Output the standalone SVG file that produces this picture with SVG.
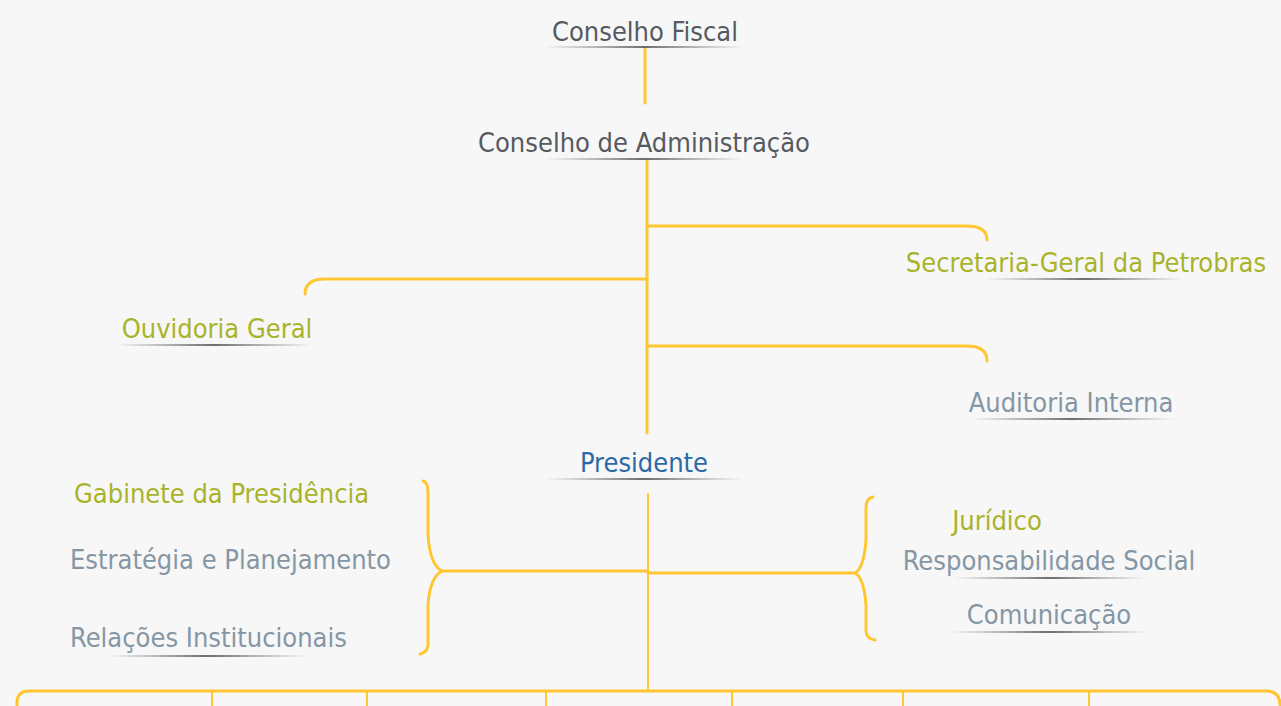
<svg xmlns="http://www.w3.org/2000/svg" width="1281" height="706" viewBox="0 0 1281 706">
<defs>
<linearGradient id="ul" x1="0" y1="0" x2="1" y2="0">
<stop offset="0" stop-color="#666" stop-opacity="0"/>
<stop offset="0.5" stop-color="#555" stop-opacity="0.85"/>
<stop offset="1" stop-color="#666" stop-opacity="0"/>
</linearGradient>
<style>
text{font-family:"DejaVu Sans Condensed","DejaVu Sans",sans-serif;font-stretch:condensed;font-size:27px;}
.dark{fill:#555a60;}
.green{fill:#a9b32a;}
.gray{fill:#8596a4;}
.blue{fill:#2a69a6;}
.ln{fill:none;stroke:#fec732;stroke-width:3;stroke-linecap:round;}
.thin{fill:none;stroke:#fec732;stroke-width:2;}
.ul{fill:url(#ul);}
</style>
</defs>
<rect width="1281" height="706" fill="#f7f7f7"/>
<g id="connectors">
<path class="ln" d="M645,49 V103"/>
<path class="ln" d="M647,161 V433"/>
<path class="ln" d="M647,226 H967 Q987,226 987,240"/>
<path class="ln" d="M647,346 H967 Q987,346 987,361"/>
<path class="ln" d="M647,279 H325 Q305,279 305,294"/>
<path class="thin" d="M648,493 V690"/>
<path class="ln" d="M442,571 H648"/>
<path class="ln" d="M648,573 H855"/>
<path class="ln" d="M423,481 Q428,482 428,492 L428,535 Q430,565 442,571 Q430,577 428,605 L428,645 Q427,653 420,654"/>
<path class="ln" d="M873,497 Q866,498 866,508 L866,540 Q864,568 855,573 Q864,578 866,605 L866,630 Q866,639 875,640"/>
<path class="ln" d="M17,706 V703 Q17,691 29,691 H1266 Q1280,691 1280,705"/>
<path class="thin" d="M212,691 V706 M367,691 V706 M546,691 V706 M732,691 V706 M903,691 V706 M1089,691 V706"/>
</g>
<g id="conselho-fiscal">
<text class="dark" x="645" y="41" text-anchor="middle">Conselho Fiscal</text>
<rect class="ul" x="545" y="46" width="200" height="2"/>
</g>
<g id="conselho-administracao">
<text class="dark" x="644" y="152" text-anchor="middle">Conselho de Administração</text>
<rect class="ul" x="545" y="158" width="200" height="2"/>
</g>
<g id="secretaria-geral">
<text class="green" x="1086" y="272" text-anchor="middle">Secretaria-Geral da Petrobras</text>
<rect class="ul" x="985" y="278" width="200" height="2"/>
</g>
<g id="ouvidoria-geral">
<text class="green" x="217" y="338" text-anchor="middle">Ouvidoria Geral</text>
<rect class="ul" x="115" y="344" width="198" height="2"/>
</g>
<g id="auditoria-interna">
<text class="gray" x="1071" y="412" text-anchor="middle">Auditoria Interna</text>
<rect class="ul" x="970" y="418" width="205" height="2"/>
</g>
<g id="presidente">
<text class="blue" x="644" y="472" text-anchor="middle">Presidente</text>
<rect class="ul" x="545" y="478" width="198" height="2"/>
</g>
<g id="gabinete-presidencia">
<text class="green" x="74" y="503">Gabinete da Presidência</text>
</g>
<g id="estrategia-planejamento">
<text class="gray" x="70" y="569">Estratégia e Planejamento</text>
</g>
<g id="relacoes-institucionais">
<text class="gray" x="70" y="647">Relações Institucionais</text>
<rect class="ul" x="107" y="655" width="200" height="2"/>
</g>
<g id="juridico">
<text class="green" x="997" y="530" text-anchor="middle">Jurídico</text>
</g>
<g id="responsabilidade-social">
<text class="gray" x="1049" y="570" text-anchor="middle">Responsabilidade Social</text>
<rect class="ul" x="953" y="577" width="194" height="2"/>
</g>
<g id="comunicacao">
<text class="gray" x="1049" y="624" text-anchor="middle">Comunicação</text>
<rect class="ul" x="950" y="631" width="200" height="2"/>
</g>
</svg>
